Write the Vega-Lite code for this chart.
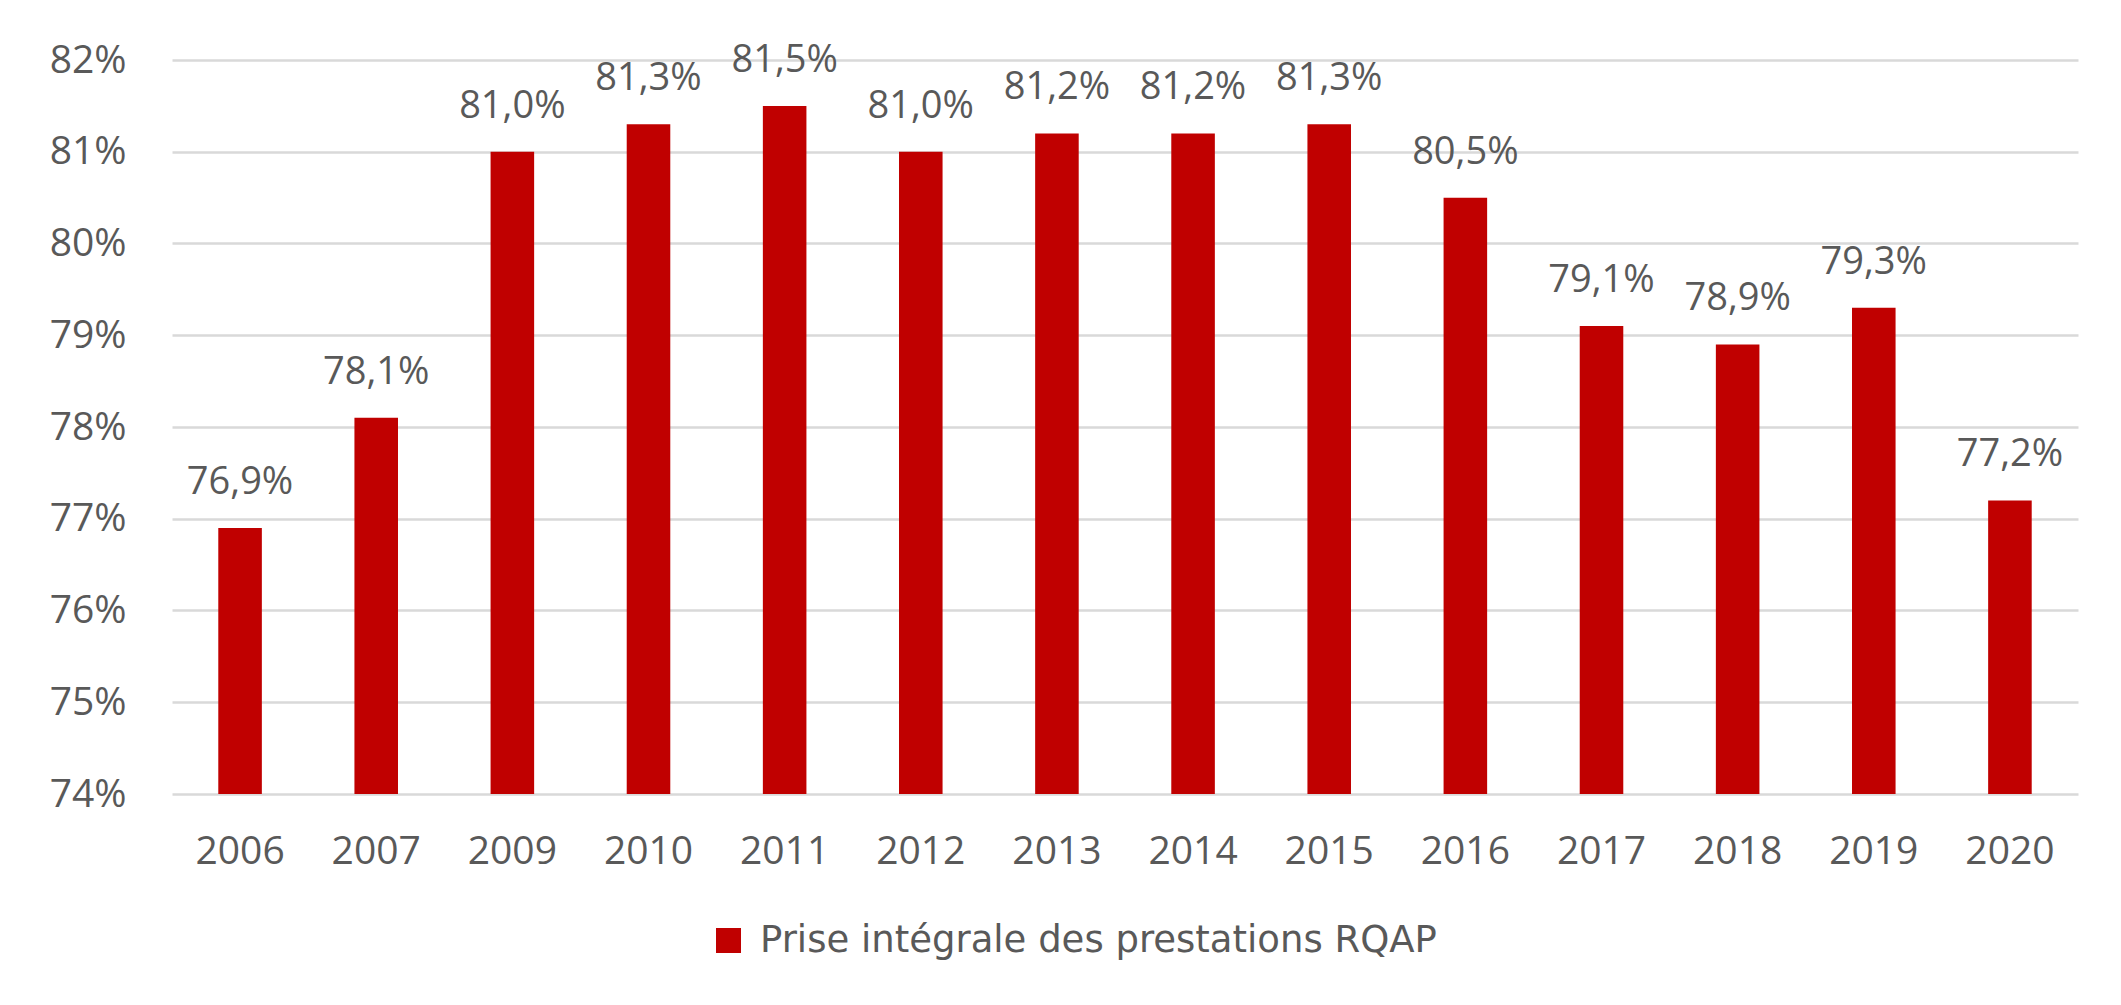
{
  "$schema": "https://vega.github.io/schema/vega-lite/v6.json",
  "width": 1906,
  "height": 734,
  "autosize": {"type": "none"},
  "padding": {"left": 172, "top": 60, "right": 43, "bottom": 211},
  "background": "white",
  "config": {
    "font": "Open Sans",
    "view": {"stroke": null},
    "locale": {"number": {"decimal": ",", "thousands": "\u00a0", "grouping": [3], "currency": ["", "\u00a0€"]}}
  },
  "data": {
    "values": [
      {"annee": "2006", "taux": 0.769, "serie": "Prise intégrale des prestations RQAP"},
      {"annee": "2007", "taux": 0.781, "serie": "Prise intégrale des prestations RQAP"},
      {"annee": "2009", "taux": 0.810, "serie": "Prise intégrale des prestations RQAP"},
      {"annee": "2010", "taux": 0.813, "serie": "Prise intégrale des prestations RQAP"},
      {"annee": "2011", "taux": 0.815, "serie": "Prise intégrale des prestations RQAP"},
      {"annee": "2012", "taux": 0.810, "serie": "Prise intégrale des prestations RQAP"},
      {"annee": "2013", "taux": 0.812, "serie": "Prise intégrale des prestations RQAP"},
      {"annee": "2014", "taux": 0.812, "serie": "Prise intégrale des prestations RQAP"},
      {"annee": "2015", "taux": 0.813, "serie": "Prise intégrale des prestations RQAP"},
      {"annee": "2016", "taux": 0.805, "serie": "Prise intégrale des prestations RQAP"},
      {"annee": "2017", "taux": 0.791, "serie": "Prise intégrale des prestations RQAP"},
      {"annee": "2018", "taux": 0.789, "serie": "Prise intégrale des prestations RQAP"},
      {"annee": "2019", "taux": 0.793, "serie": "Prise intégrale des prestations RQAP"},
      {"annee": "2020", "taux": 0.772, "serie": "Prise intégrale des prestations RQAP"}
    ]
  },
  "encoding": {
    "x": {
      "field": "annee",
      "type": "ordinal",
      "sort": null,
      "scale": {"paddingInner": 0.68, "paddingOuter": 0.34},
      "axis": {
        "title": null,
        "labelAngle": 0,
        "labelFontSize": 39,
        "labelColor": "#595959",
        "labelPadding": 38,
        "ticks": false,
        "domain": false,
        "grid": false
      }
    },
    "y": {
      "field": "taux",
      "type": "quantitative",
      "scale": {"domain": [0.74, 0.82], "nice": false, "zero": false},
      "axis": {
        "title": null,
        "values": [0.74, 0.75, 0.76, 0.77, 0.78, 0.79, 0.80, 0.81, 0.82],
        "format": ".0%",
        "labelFontSize": 39,
        "labelColor": "#595959",
        "labelPadding": 46,
        "ticks": false,
        "domain": false,
        "grid": true,
        "gridColor": "#D9D9D9",
        "gridWidth": 2.5
      }
    }
  },
  "layer": [
    {
      "mark": {"type": "bar", "color": "#C00000"},
      "encoding": {
        "y2": {"datum": 0.74},
        "color": {
          "field": "serie",
          "type": "nominal",
          "scale": {"range": ["#C00000"]},
          "legend": {
            "title": null,
            "orient": "none",
            "legendX": 538,
            "legendY": 862,
            "symbolType": "square",
            "symbolSize": 625,
            "symbolStrokeWidth": 0,
            "labelFont": "DejaVu Sans",
            "labelFontSize": 37,
            "labelColor": "#595959",
            "labelOffset": 13,
            "labelLimit": 0,
            "padding": 0
          }
        }
      }
    },
    {
      "mark": {"type": "text", "baseline": "alphabetic", "dy": -34, "fontSize": 38, "color": "#595959"},
      "encoding": {
        "text": {"field": "taux", "type": "quantitative", "format": ".1%"}
      }
    }
  ]
}
